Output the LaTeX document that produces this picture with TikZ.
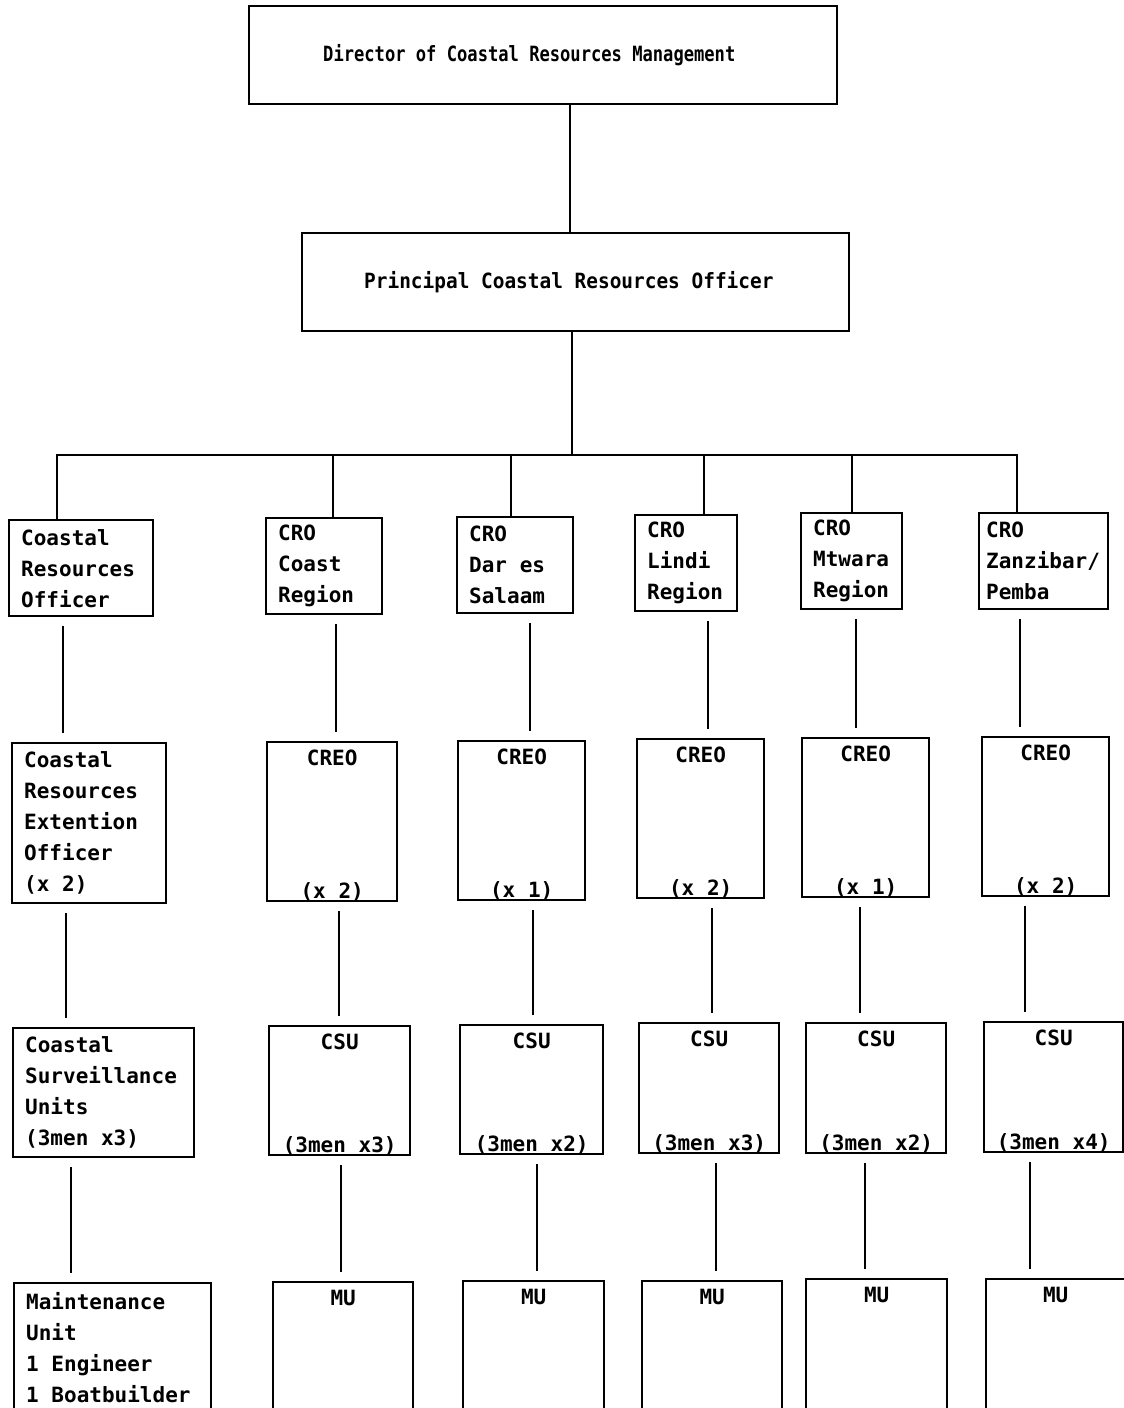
\documentclass[tikz,border=0pt]{standalone}
\usepackage{fontspec}
\setmonofont{DejaVu Sans Mono}
\newfontfamily\dirmono{DejaVu Sans Mono}[FakeStretch=0.815]
\newfontfamily\pcomono{DejaVu Sans Mono}[FakeStretch=0.925]
\usetikzlibrary{positioning}

\newcommand{\unitfont}{\ttfamily\bfseries\fontsize{21}{31}\selectfont}
\newcommand{\topfont}{\dirmono\bfseries\fontsize{21}{26}\selectfont}
\newcommand{\pcofont}{\pcomono\bfseries\fontsize{21}{26}\selectfont}

\begin{document}
\begin{tikzpicture}[
  x=1pt, y=-1pt,
  box/.style={draw, line width=2.4pt, anchor=north west, inner xsep=12pt,
              inner ysep=0pt, align=flush left, font=\unitfont},
  txt/.style={inner sep=0pt, font=\unitfont},
  link/.style={line width=2.4pt},
  brk/.style={shorten <=9pt, shorten >=9pt}
]
  \useasboundingbox (0,0) rectangle (1124,1408);
  \clip (0,0) rectangle (1124,1408);

  % top of the chart
  \node[box, font=\topfont, inner xsep=74pt, text width=440pt, minimum height=98pt] (dir) at (248,5)
    {Director of Coastal Resources Management};
  \node[box, font=\pcofont, inner xsep=62pt, text width=423pt, minimum height=98pt] (pco) at (301,232)
    {Principal Coastal Resources Officer};
  \coordinate (bus) at (572,455);

  % regional officers
  \node[box, text width=120pt, minimum height=96pt] (cro1) at (8,519) {Coastal\\Resources\\Officer};
  \node[box, text width=92pt, minimum height=96pt] (cro2) at (265,517) {CRO\\Coast\\Region};
  \node[box, text width=92pt, minimum height=96pt] (cro3) at (456,516) {CRO\\Dar es\\Salaam};
  \node[box, text width=78pt, minimum height=96pt] (cro4) at (634,514) {CRO\\Lindi\\Region};
  \node[box, text width=77pt, minimum height=96pt] (cro5) at (800,512) {CRO\\Mtwara\\Region};
  \node[box, inner xsep=7pt, text width=115pt, minimum height=96pt] (cro6) at (978,512) {CRO\\Zanzibar/\\Pemba};

  % extension officers
  \node[box, text width=130pt, minimum height=160pt] (creo1) at (11,742)
    {Coastal\\Resources\\Extention\\Officer\\(x 2)};
  \node[box, minimum width=130pt, minimum height=159pt] (creo2) at (266,741) {};
  \node[box, minimum width=127pt, minimum height=159pt] (creo3) at (457,740) {};
  \node[box, minimum width=127pt, minimum height=159pt] (creo4) at (636,738) {};
  \node[box, minimum width=127pt, minimum height=159pt] (creo5) at (801,737) {};
  \node[box, minimum width=127pt, minimum height=159pt] (creo6) at (981,736) {};
  \node[txt, below=9pt of creo2.north] (creo2t) {CREO};
  \node[txt, below=9pt of creo3.north] (creo3t) {CREO};
  \node[txt, below=9pt of creo4.north] (creo4t) {CREO};
  \node[txt, below=9pt of creo5.north] (creo5t) {CREO};
  \node[txt, below=9pt of creo6.north] (creo6t) {CREO};
  \node[txt, above=1pt of creo2.south] (creo2b) {(x 2)};
  \node[txt, above=1pt of creo3.south] (creo3b) {(x 1)};
  \node[txt, above=1pt of creo4.south] (creo4b) {(x 2)};
  \node[txt, above=1pt of creo5.south] (creo5b) {(x 1)};
  \node[txt, above=1pt of creo6.south] (creo6b) {(x 2)};

  % surveillance units
  \node[box, text width=157pt, minimum height=129pt] (csu1) at (12,1027)
    {Coastal\\Surveillance\\Units\\(3men x3)};
  \node[box, minimum width=141pt, minimum height=129pt] (csu2) at (268,1025) {};
  \node[box, minimum width=143pt, minimum height=129pt] (csu3) at (459,1024) {};
  \node[box, minimum width=140pt, minimum height=130pt] (csu4) at (638,1022) {};
  \node[box, minimum width=140pt, minimum height=130pt] (csu5) at (805,1022) {};
  \node[box, minimum width=139pt, minimum height=130pt] (csu6) at (983,1021) {};
  \node[txt, below=9pt of csu2.north] (csu2t) {CSU};
  \node[txt, below=9pt of csu3.north] (csu3t) {CSU};
  \node[txt, below=9pt of csu4.north] (csu4t) {CSU};
  \node[txt, below=9pt of csu5.north] (csu5t) {CSU};
  \node[txt, below=9pt of csu6.north] (csu6t) {CSU};
  \node[txt, above=1pt of csu2.south] (csu2b) {(3men x3)};
  \node[txt, above=1pt of csu3.south] (csu3b) {(3men x2)};
  \node[txt, above=1pt of csu4.south] (csu4b) {(3men x3)};
  \node[txt, above=1pt of csu5.south] (csu5b) {(3men x2)};
  \node[txt, above=1pt of csu6.south] (csu6b) {(3men x4)};

  % maintenance units
  \node[box, text width=173pt, minimum height=129pt] (mu1) at (13,1282)
    {Maintenance\\Unit\\1 Engineer\\1 Boatbuilder};
  \node[box, minimum width=140pt, minimum height=138pt] (mu2) at (272,1281) {};
  \node[box, minimum width=141pt, minimum height=138pt] (mu3) at (462,1280) {};
  \node[box, minimum width=140pt, minimum height=138pt] (mu4) at (641,1280) {};
  \node[box, minimum width=141pt, minimum height=140pt] (mu5) at (805,1278) {};
  \node[box, minimum width=139pt, minimum height=140pt] (mu6) at (985,1278) {};
  \node[txt, below=9pt of mu2.north] (mu2t) {MU};
  \node[txt, below=9pt of mu3.north] (mu3t) {MU};
  \node[txt, below=9pt of mu4.north] (mu4t) {MU};
  \node[txt, below=9pt of mu5.north] (mu5t) {MU};
  \node[txt, below=9pt of mu6.north] (mu6t) {MU};

  % connectors
  \draw[link] (dir.south -| 570,0) -- (pco.north -| 570,0);
  \draw[link] (pco.south -| 572,0) -- (bus);
  \draw[link] (cro1.north -| 57,0) |- (bus);
  \draw[link] (cro2.north -| 333,0) |- (bus);
  \draw[link] (cro3.north -| 511,0) |- (bus);
  \draw[link] (cro4.north -| 704,0) |- (bus);
  \draw[link] (cro5.north -| 852,0) |- (bus);
  \draw[link] (cro6.north -| 1017,0) |- (bus);

  \draw[link, brk] (cro1.south -| 63,0) -- (creo1.north -| 63,0);
  \draw[link, brk] (cro2.south -| 336,0) -- (creo2.north -| 336,0);
  \draw[link, brk] (cro3.south -| 530,0) -- (creo3.north -| 530,0);
  \draw[link, brk] (cro4.south -| 708,0) -- (creo4.north -| 708,0);
  \draw[link, brk] (cro5.south -| 856,0) -- (creo5.north -| 856,0);
  \draw[link, brk] (cro6.south -| 1020,0) -- (creo6.north -| 1020,0);

  \draw[link, brk] (creo1.south -| 66,0) -- (csu1.north -| 66,0);
  \draw[link, brk] (creo2.south -| 339,0) -- (csu2.north -| 339,0);
  \draw[link, brk] (creo3.south -| 533,0) -- (csu3.north -| 533,0);
  \draw[link, brk] (creo4.south -| 712,0) -- (csu4.north -| 712,0);
  \draw[link, brk] (creo5.south -| 860,0) -- (csu5.north -| 860,0);
  \draw[link, brk] (creo6.south -| 1025,0) -- (csu6.north -| 1025,0);

  \draw[link, brk] (csu1.south -| 71,0) -- (mu1.north -| 71,0);
  \draw[link, brk] (csu2.south -| 341,0) -- (mu2.north -| 341,0);
  \draw[link, brk] (csu3.south -| 537,0) -- (mu3.north -| 537,0);
  \draw[link, brk] (csu4.south -| 716,0) -- (mu4.north -| 716,0);
  \draw[link, brk] (csu5.south -| 865,0) -- (mu5.north -| 865,0);
  \draw[link, brk] (csu6.south -| 1030,0) -- (mu6.north -| 1030,0);
\end{tikzpicture}
\end{document}
